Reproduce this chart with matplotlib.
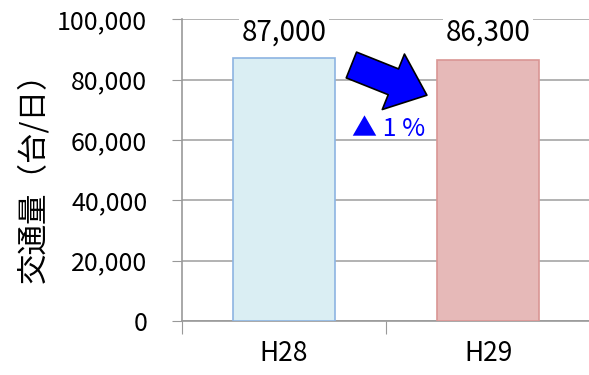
import matplotlib.pyplot as plt
from matplotlib.ticker import FuncFormatter

plt.rcParams['font.family'] = ['Noto Sans CJK JP', 'DejaVu Sans']

# 年度別の交通量
years = ['H28', 'H29']
traffic = [87000, 86300]
change_label = '▲ 1 %'

fill_colors = ['#DAEEF3', '#E6B9B8']
edge_colors = ['#8DB4E2', '#D99694']

fig = plt.figure(figsize=(5.89, 3.75), dpi=100)
ax = fig.add_axes([0.309, 0.144, 0.693, 0.805])

x = range(len(years))
ax.bar(x, traffic, width=0.5, color=fill_colors, edgecolor=edge_colors,
       linewidth=1.2, zorder=3)

# 棒の上の数値
for xi, v in zip(x, traffic):
    ax.text(xi, 95600, f'{v:,}', ha='center', va='center', fontsize=20,
            color='black', zorder=4,
            bbox=dict(facecolor='white', edgecolor='none', pad=2))

# 減少を示す矢印
ax.annotate('', xy=(0.70, 74800), xytext=(0.33, 84800),
            arrowprops=dict(arrowstyle='simple,head_length=1.3,head_width=2.15,tail_width=1.0',
                            mutation_scale=20, fc='#0000FF', ec='black', lw=1.2,
                            shrinkA=0, shrinkB=0),
            zorder=5)
ax.text(0.51, 63600, change_label, ha='center', va='center', fontsize=18,
        color='#0000FF', zorder=5)

ax.set_xlim(-0.5, 1.5)
ax.set_ylim(0, 100000)
ax.set_yticks(range(0, 100001, 20000))
ax.yaxis.set_major_formatter(FuncFormatter(lambda v, p: f'{int(v):,}'))
ax.set_xticks([-0.5, 0.5, 1.5])
ax.set_xticklabels([])
ax.set_xticks(list(x), minor=True)
ax.set_xticklabels(years, minor=True)

ax.tick_params(axis='y', which='major', length=7, color='#999999',
               labelsize=18, pad=18)
ax.tick_params(axis='x', which='major', length=9, color='#999999', direction='out')
ax.tick_params(axis='x', which='minor', length=0, labelsize=19, pad=14)

ax.grid(axis='y', color='#A6A6A6', linewidth=1.2, zorder=0)
for s in ['top', 'right']:
    ax.spines[s].set_visible(False)
for s in ['left', 'bottom']:
    ax.spines[s].set_color('#999999')
    ax.spines[s].set_linewidth(1.2)

ax.set_ylabel('交通量（台/日）', fontsize=22, labelpad=6)

fig.savefig('out.png', dpi=100)
